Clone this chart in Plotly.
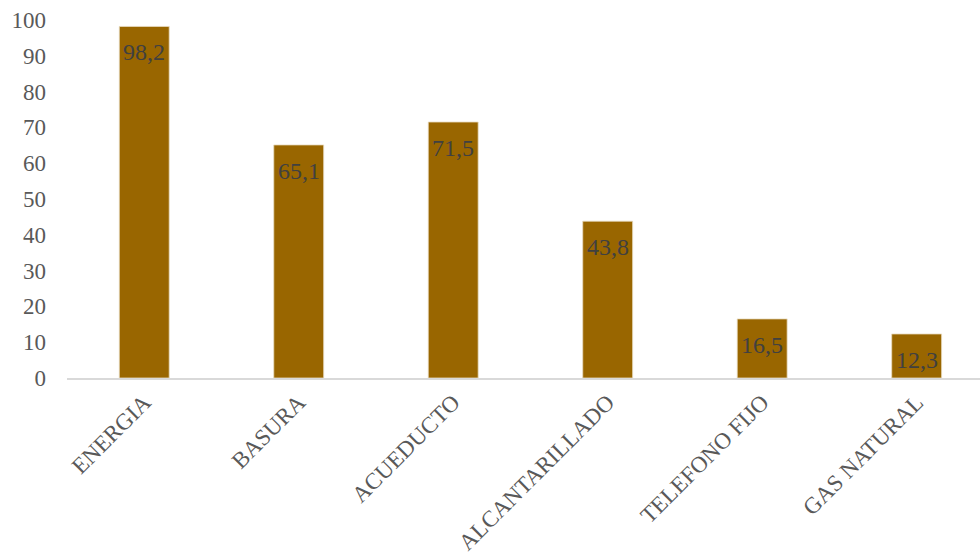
import plotly.graph_objects as go

categories = ["ENERGIA", "BASURA", "ACUEDUCTO", "ALCANTARILLADO", "TELEFONO FIJO", "GAS NATURAL"]
values = [98.2, 65.1, 71.5, 43.8, 16.5, 12.3]
labels = [f"{v:.1f}".replace(".", ",") for v in values]
y_ticks = list(range(0, 101, 10))

FONT = "Liberation Serif, Times New Roman, serif"

fig = go.Figure()
fig.add_trace(go.Bar(
    x=categories, y=values,
    marker=dict(color="#996600", line=dict(color="#e8dcc0", width=0.8)),
    width=0.323,
    hoverinfo="x+y",
))

for c, v, t in zip(categories, values, labels):
    fig.add_annotation(x=c, y=v, text=t, showarrow=False, yshift=-26,
                       font=dict(family=FONT, size=24, color="#404040"))

fig.update_layout(
    width=980, height=560,
    margin=dict(l=67, r=0, t=20, b=182),
    plot_bgcolor="white", paper_bgcolor="white",
    showlegend=False,
    xaxis=dict(range=[-0.5, 5.41], tickangle=-45, showline=True, linecolor="#d9d9d9",
               linewidth=1.5, ticks="", showgrid=False,
               tickfont=dict(family=FONT, size=23, color="#595959")),
    yaxis=dict(range=[0, 100], tickvals=y_ticks, showgrid=False, zeroline=False,
               showline=False, ticks="", ticklabelstandoff=20,
               tickfont=dict(family=FONT, size=23, color="#595959")),
)
fig.write_html("out.html")
